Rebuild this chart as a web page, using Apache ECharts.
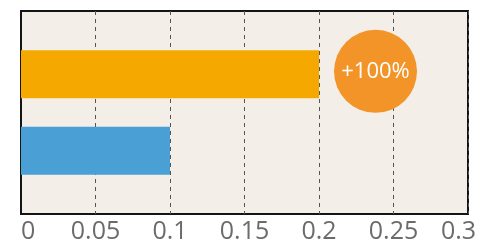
<!DOCTYPE html>
<html>
<head>
<meta charset="utf-8">
<style>
html,body{margin:0;padding:0;background:#fff;}
#chart{width:480px;height:244px;}
</style>
<script src="https://cdn.jsdelivr.net/npm/echarts@6/dist/echarts.min.js"></script>
</head>
<body>
<div id="chart"></div>
<script>
const categories = ['A'];
const baseValues = [0.1];
const newValues = [0.2];
const tickMin = 0, tickMax = 0.3, tickStep = 0.05;

const pct = Math.round((newValues[0] / baseValues[0] - 1) * 100);
const badge = (pct >= 0 ? '+' : '') + pct + '%';

const chart = echarts.init(document.getElementById('chart'));
chart.setOption({
  animation: false,
  grid: {
    left: 21, right: 12, top: 11, bottom: 30,
    show: true, backgroundColor: '#f3efe8', borderColor: '#141414', borderWidth: 2
  },
  xAxis: {
    type: 'value', min: tickMin, max: tickMax, interval: tickStep,
    axisLine: {show: false}, axisTick: {show: false},
    splitLine: {show: true, lineStyle: {color: '#555', type: [4, 4], width: 1}},
    axisLabel: {
      fontSize: 25, color: '#6b6b6b', fontFamily: 'Open Sans', margin: 5,
      alignMinLabel: 'left',
      formatter: v => {
        const s = String(+v.toFixed(2));
        return Math.abs(v - tickMax) < 1e-9 ? '{m|' + s + '}' : s;
      },
      rich: {
        m: {width: 54, align: 'left', fontSize: 25, color: '#6b6b6b', fontFamily: 'Open Sans'}
      }
    }
  },
  yAxis: {
    type: 'category', data: categories,
    axisLine: {show: true, lineStyle: {color: '#141414', width: 2}},
    axisTick: {show: false}, axisLabel: {show: false}, splitLine: {show: false}
  },
  series: [
    {
      type: 'bar', data: newValues, barWidth: 48, barGap: '59%',
      itemStyle: {color: '#f5a800'},
      label: {
        show: true, position: 'right', distance: 15, offset: [0, -3],
        formatter: '{c|' + badge + '}',
        rich: {
          c: {
            width: 83, height: 83, lineHeight: 83, align: 'center',
            backgroundColor: '#f39428', borderRadius: 42,
            color: '#fff', fontSize: 22, fontFamily: 'Open Sans'
          }
        }
      }
    },
    {
      type: 'bar', data: baseValues, barWidth: 48,
      itemStyle: {color: '#4a9fd5'}
    }
  ]
});
</script>
</body>
</html>
